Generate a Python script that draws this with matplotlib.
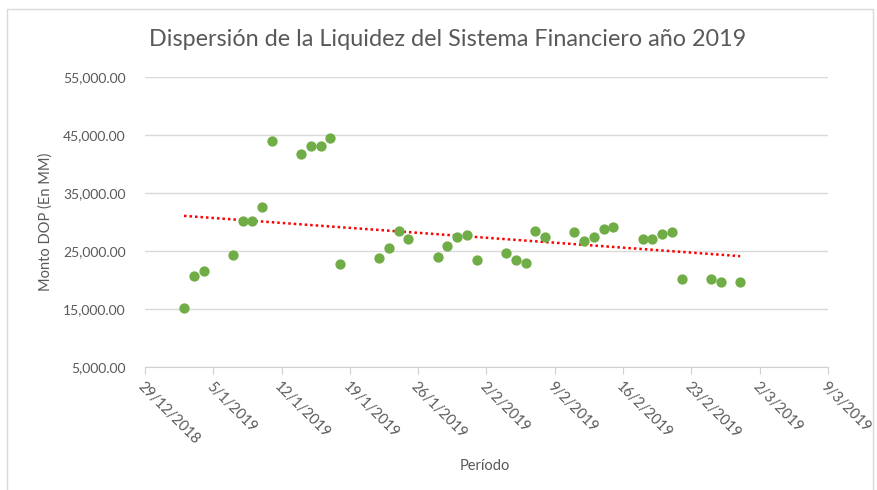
import datetime as dt
import matplotlib
matplotlib.use("Agg")
import matplotlib.pyplot as plt
import matplotlib.dates as mdates
import numpy as np

plt.rcParams['font.family'] = ['Lato', 'DejaVu Sans']

# fechas (dia/mes) y montos
fechas = ["2/1", "3/1", "4/1", "7/1", "8/1", "9/1", "10/1", "11/1",
          "14/1", "15/1", "16/1", "17/1", "18/1",
          "22/1", "23/1", "24/1", "25/1",
          "28/1", "29/1", "30/1", "31/1", "1/2",
          "4/2", "5/2", "6/2", "7/2", "8/2",
          "11/2", "12/2", "13/2", "14/2", "15/2",
          "18/2", "19/2", "20/2", "21/2", "22/2",
          "25/2", "26/2", "28/2"]
montos = [15100, 20690, 21620, 24260, 30120, 30120, 32650, 43960,
          41670, 43050, 43050, 44480, 22830,
          23790, 25600, 28520, 27020,
          23970, 25810, 27480, 27710, 23450,
          24660, 23450, 23000, 28520, 27480,
          28220, 26810, 27480, 28710, 29140,
          27020, 27020, 28000, 28280, 20240,
          20240, 19720, 19720]
y_ticks = [5000, 15000, 25000, 35000, 45000, 55000]

fechas_dt = [dt.datetime(2019, int(f.split("/")[1]), int(f.split("/")[0])) for f in fechas]
x = mdates.date2num(fechas_dt)
y = np.array(montos, dtype=float)

gris = "#595959"

fig = plt.figure(figsize=(8.77, 4.9), dpi=100)
ax = fig.add_axes([145 / 877, 1 - 367 / 490, (828 - 145) / 877, (367 - 77) / 490])

ax.scatter(x, y, s=55, color="#70AD47", zorder=3, linewidths=0)

# linea de tendencia lineal
m, b = np.polyfit(x, y, 1)
xt = np.array([x.min(), x.max()])
ax.plot(xt, m * xt + b, color="#FF0000", linestyle=(0, (1, 1.2)), linewidth=1.8, zorder=2)

ax.set_ylim(5000, 55000)
ax.set_yticks(y_ticks)
ax.set_yticklabels([f"{v:,.2f}" for v in y_ticks], color=gris, fontsize=10)
ax.yaxis.grid(True, color="#d9d9d9", linewidth=1)
ax.set_axisbelow(True)

inicio = dt.datetime(2018, 12, 29)
semanas = [inicio + dt.timedelta(days=7 * i) for i in range(11)]
ax.set_xlim(mdates.date2num(semanas[0]), mdates.date2num(semanas[-1]))
ax.set_xticks(mdates.date2num(semanas))
ax.set_xticklabels([f"{d.day}/{d.month}/{d.year}" for d in semanas], color=gris, fontsize=10.5,
                   rotation=-45, ha="left", va="top", rotation_mode="anchor")

for s in ["left", "right", "top"]:
    ax.spines[s].set_visible(False)
ax.spines["bottom"].set_color("#d0d0d0")
ax.tick_params(axis="x", direction="out", length=5, color="#d0d0d0", pad=4)
ax.tick_params(axis="y", length=0, pad=14)

ax.set_ylabel("Monto DOP (En MM)", color=gris, fontsize=10.5, labelpad=7)
fig.text(485 / 877, 1 - 466 / 490, "Período", color=gris, fontsize=10.5, ha="center", va="center")
fig.text(448 / 877, 1 - 40 / 490, "Dispersión de la Liquidez del Sistema Financiero año 2019",
         color=gris, fontsize=16.8, ha="center", va="center")

# marco del area del grafico
fig.patches.append(plt.Rectangle((7 / 877, -0.01), 866 / 877, 1 - 9 / 490 + 0.01, transform=fig.transFigure,
                                 fill=False, edgecolor="#d9d9d9", linewidth=1))

fig.savefig("out.png", dpi=100)
